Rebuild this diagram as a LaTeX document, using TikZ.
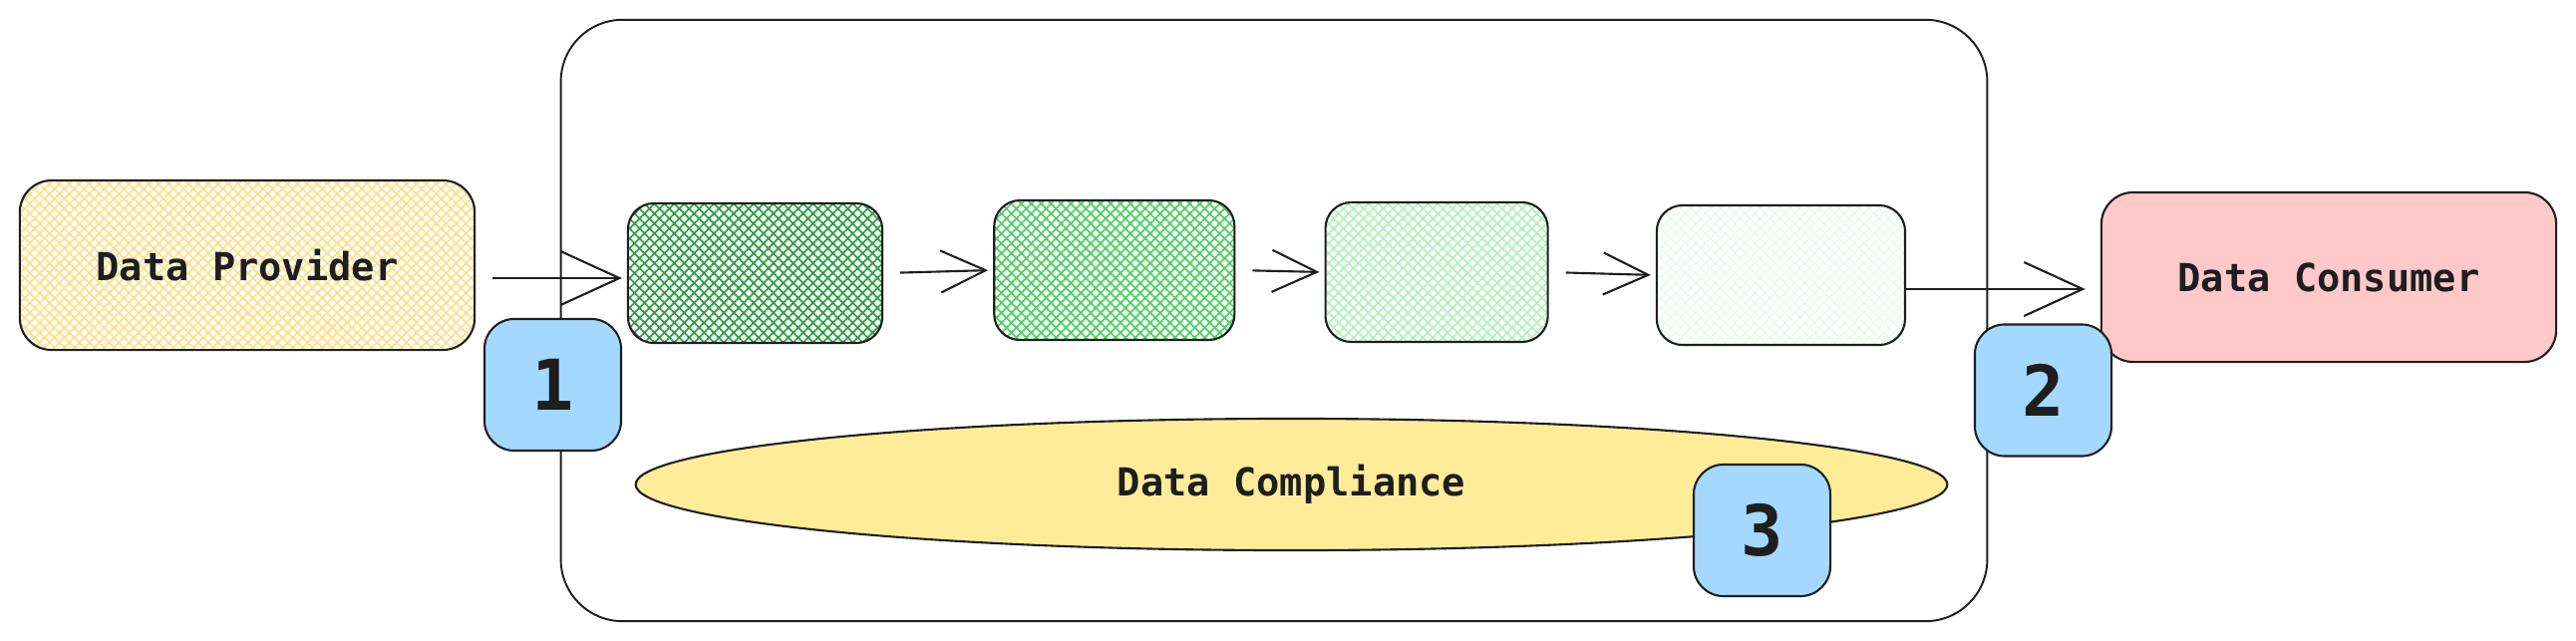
\documentclass[tikz,border=0pt]{standalone}
\usepackage{fontspec}
\newfontfamily\boxfont{DejaVu Sans Mono}
\usepackage{tikz}
\usetikzlibrary{shapes.geometric, arrows.meta, positioning, patterns.meta}
\definecolor{ink}{HTML}{1E1E1E}
\definecolor{provideryellow}{HTML}{FFE08A}
\definecolor{complianceyellow}{HTML}{FFEC99}
\definecolor{consumerred}{HTML}{FFC9C9}
\definecolor{badgeblue}{HTML}{A5D8FF}
\definecolor{greenA}{HTML}{2F9E44}
\definecolor{greenB}{HTML}{51CF66}
\definecolor{greenC}{HTML}{B2F2BB}
\definecolor{greenD}{HTML}{EBFBEE}
\tikzset{hatched/.style={pattern={Hatch[angle=45, distance=2pt, line width=0.5pt]}, pattern color=#1}}
\tikzstyle{framebox} = [rectangle, rounded corners=0.62cm, minimum width=14.3cm, minimum height=6.03cm, draw=ink, line width=0.55pt]
\tikzstyle{endbox} = [rectangle, rounded corners=0.32cm, minimum width=4.56cm, minimum height=1.7cm, text centered, draw=ink, line width=0.6pt, text=ink, font=\boxfont\bfseries\fontsize{11pt}{13pt}\selectfont]
\tikzstyle{stagebox} = [rectangle, rounded corners=0.26cm, minimum height=1.4cm, draw=ink, line width=0.6pt]
\tikzstyle{compliance} = [ellipse, inner sep=0pt, minimum width=13.15cm, minimum height=1.32cm, draw=ink, line width=0.6pt, fill=complianceyellow, text=ink, font=\boxfont\bfseries\fontsize{11pt}{13pt}\selectfont]
\tikzstyle{badge} = [rectangle, rounded corners=0.3cm, minimum width=1.37cm, minimum height=1.32cm, draw=ink, line width=0.6pt, fill=badgeblue, text=ink, font=\boxfont\bfseries\fontsize{20pt}{24pt}\selectfont]
\tikzstyle{arrow} = [ink, line width=0.6pt, shorten <=0.17cm, shorten >=0.05cm, -{Straight Barb[length=0.45cm, width=0.42cm]}]
\tikzstyle{bigarrow} = [arrow, -{Straight Barb[length=0.59cm, width=0.54cm]}]

\begin{document}
\begin{tikzpicture}[x=0.01cm, y=-0.01cm]
		\useasboundingbox (0,0) rectangle (2584,642);
		% Nodes
		\node (frame) [framebox] at (1278,321.5) {};
		\node (compliance) [compliance] at (1295.5,486) {Data Compliance};
		\node (provider) [endbox, hatched=provideryellow] at (248,266) {Data Provider};
		\node (stageA) [stagebox, hatched=greenA, minimum width=2.55cm] at (757.5,274) {};
		\node (stageB) [stagebox, hatched=greenB, minimum width=2.41cm, right=1.1cm of stageA, yshift=0.03cm] {};
		\node (stageC) [stagebox, hatched=greenC, minimum width=2.23cm, right=0.89cm of stageB, yshift=-0.02cm] {};
		\node (stageD) [stagebox, hatched=greenD, minimum width=2.49cm, right=1.07cm of stageC, yshift=-0.03cm] {};
		\node (consumer) [endbox, fill=consumerred] at (2336,278) {Data Consumer};
		% Arrows
		\draw [bigarrow] ([yshift=-0.05cm]provider.east |- stageA.west) -- ([yshift=-0.05cm]stageA.west);
		\draw [arrow] (stageA.east) -- (stageB.west);
		\draw [arrow] (stageB.east) -- (stageC.west);
		\draw [arrow] (stageC.east) -- (stageD.west);
		\draw [bigarrow, shorten <=0pt, shorten >=0.15cm] ([yshift=-0.14cm]stageD.east) -- ([yshift=-0.14cm]stageD.east -| consumer.west);
		% Badges
		\node (badgeA) [badge] at (554.5,386) {1};
		\node (badgeB) [badge] at (2049.5,391.5) {2};
		\node (badgeC) [badge] at (1767.5,532) {3};
	\end{tikzpicture}
\end{document}
